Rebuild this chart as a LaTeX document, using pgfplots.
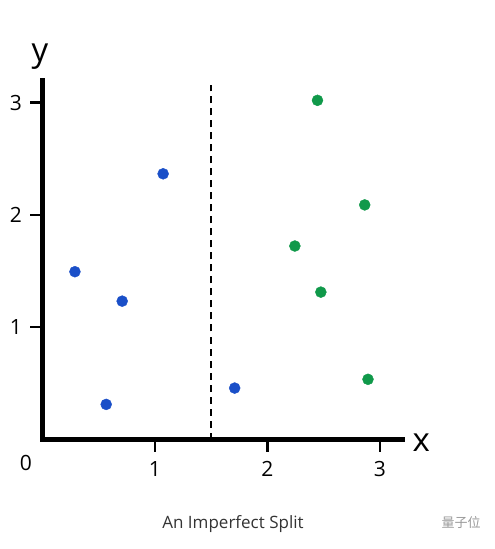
\documentclass[border=0pt]{standalone}
\usepackage{pgfplots}
\pgfplotsset{compat=1.18}
\usepackage{fontspec}
\setmainfont{Open Sans}
\newfontfamily\cjk{Noto Sans CJK SC}
\definecolor{cblue}{HTML}{1A4FC8}
\definecolor{cgreen}{HTML}{10994A}
\definecolor{tgray}{HTML}{333333}
\begin{document}
\begin{tikzpicture}
\begin{axis}[
  x=112.5pt, y=112.3pt,
  xmin=0, xmax=3.2, ymin=0, ymax=3.2,
  axis x line*=bottom, axis y line*=left,
  axis line style={-, line width=5pt, line cap=rect},
  xtick={1,2,3}, ytick={1,2,3},
  xtick style={draw=none}, ytick style={draw=none},
  tick label style={font=\fontsize{21}{24}\selectfont},
  /pgf/number format/assume math mode=true,
  xticklabel style={yshift=-18pt},
  yticklabel style={xshift=-17pt},
  clip=false,
]
\path ([shift={(-42.3pt,-109.5pt)}]axis cs:0,0) rectangle ([shift={(452.7pt,439.5pt)}]axis cs:0,0);
\addplot[line width=2pt, dash pattern=on 7pt off 5pt] coordinates {(1.5,0) (1.5,3.16)};
\addplot[only marks, mark=*, mark size=5.5pt, color=cblue, mark options={draw=cblue, fill=cblue}] coordinates {
(0.29,1.494) (0.71,1.232) (1.074,2.366) (0.568,0.3125) (1.71,0.458)};
\addplot[only marks, mark=*, mark size=5.5pt, color=cgreen, mark options={draw=cgreen, fill=cgreen}] coordinates {
(2.446,3.02) (2.866,2.089) (2.245,1.723) (2.476,1.3125) (2.895,0.536)};
\draw[line width=2.4pt, black] (axis cs:1,0) -- ([yshift=-12pt]axis cs:1,0);
\draw[line width=2.4pt, black] (axis cs:2,0) -- ([yshift=-12pt]axis cs:2,0);
\draw[line width=2.4pt, black] (axis cs:3,0) -- ([yshift=-12pt]axis cs:3,0);
\draw[line width=2.2pt, black] (axis cs:0,1) -- ([xshift=-12pt]axis cs:0,1);
\draw[line width=2.2pt, black] (axis cs:0,2) -- ([xshift=-12pt]axis cs:0,2);
\draw[line width=2.2pt, black] (axis cs:0,3) -- ([xshift=-12pt]axis cs:0,3);
\node[font=\fontsize{33}{36}\selectfont, anchor=base west] at ([shift={(366.7pt,-11.5pt)}]axis cs:0,0) {x};
\node[font=\fontsize{33}{36}\selectfont, anchor=base] at ([shift={(-2.3pt,377.5pt)}]axis cs:0,0) {y};
\node[font=\fontsize{21}{24}\selectfont, anchor=base] at ([shift={(-16.3pt,-30.5pt)}]axis cs:0,0) {0};
\node[font=\fontsize{17}{20}\selectfont, text=tgray, anchor=base] at ([shift={(190.7pt,-88.5pt)}]axis cs:0,0) {An Imperfect Split};
\node[font=\cjk\fontsize{13}{15}\selectfont, text=gray!80, anchor=base] at ([shift={(418.7pt,-87.5pt)}]axis cs:0,0) {量子位};
\end{axis}
\end{tikzpicture}
\end{document}
